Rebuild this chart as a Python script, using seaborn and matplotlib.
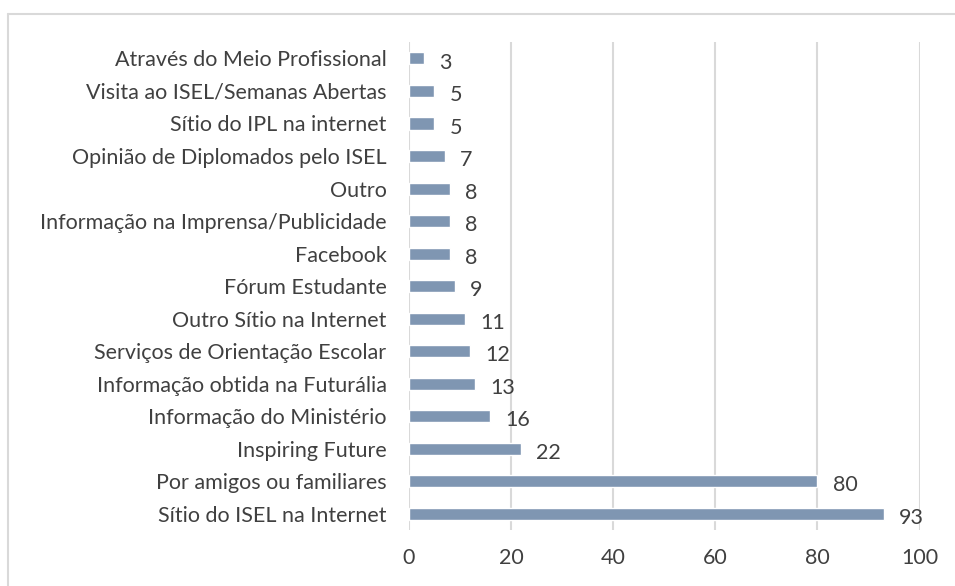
import matplotlib
matplotlib.use("Agg")
from matplotlib import pyplot as plt
from matplotlib.lines import Line2D
import pandas as pd
import seaborn as sns

categories = [
    'Através do Meio Profissional',
    'Visita ao ISEL/Semanas Abertas',
    'Sítio do IPL na internet',
    'Opinião de Diplomados pelo ISEL',
    'Outro',
    'Informação na Imprensa/Publicidade',
    'Facebook',
    'Fórum Estudante',
    'Outro Sítio na Internet',
    'Serviços de Orientação Escolar',
    'Informação obtida na Futurália',
    'Informação do Ministério',
    'Inspiring Future',
    'Por amigos ou familiares',
    'Sítio do ISEL na Internet',
]
values = [3, 5, 5, 7, 8, 8, 8, 9, 11, 12, 13, 16, 22, 80, 93]
xticks = [0, 20, 40, 60, 80, 100]

df = pd.DataFrame({'cat': categories, 'val': values})

sns.set_style('white')
plt.rcParams['font.family'] = ['Lato', 'DejaVu Sans']

fig = plt.figure(figsize=(9.55, 5.86), dpi=100)
ax = fig.add_axes([0.428, 0.0956, 0.535, 0.8324])

sns.barplot(data=df, x='val', y='cat', color='#7F96B2', saturation=1,
            width=0.37, ax=ax, orient='h')

for i, v in enumerate(values):
    ax.annotate(str(v), (v, i), xytext=(11, -3), textcoords='offset points',
                va='center', ha='left', fontsize=15.5, color='#404040')

ax.set_xlim(0, 100)
ax.set_ylim(14.5, -0.5)
ax.set_xticks(xticks)
ax.set_xticklabels([str(t) for t in xticks])
ax.set_xlabel('')
ax.set_ylabel('')
ax.tick_params(axis='both', length=0, labelsize=15.5, labelcolor='#404040')
ax.tick_params(axis='x', pad=13)
ax.tick_params(axis='y', pad=16)
for x in xticks:
    ax.axvline(x, color='#D9D9D9', lw=1.5, zorder=0)
for s in ax.spines.values():
    s.set_visible(False)

# chart frame (top and left edges only visible)
fig.add_artist(Line2D([8/955, 1], [1 - 14/586, 1 - 14/586], color='#D9D9D9', lw=1.5))
fig.add_artist(Line2D([8/955, 8/955], [0, 1 - 14/586], color='#D9D9D9', lw=1.5))

fig.savefig('out.png', dpi=100)
